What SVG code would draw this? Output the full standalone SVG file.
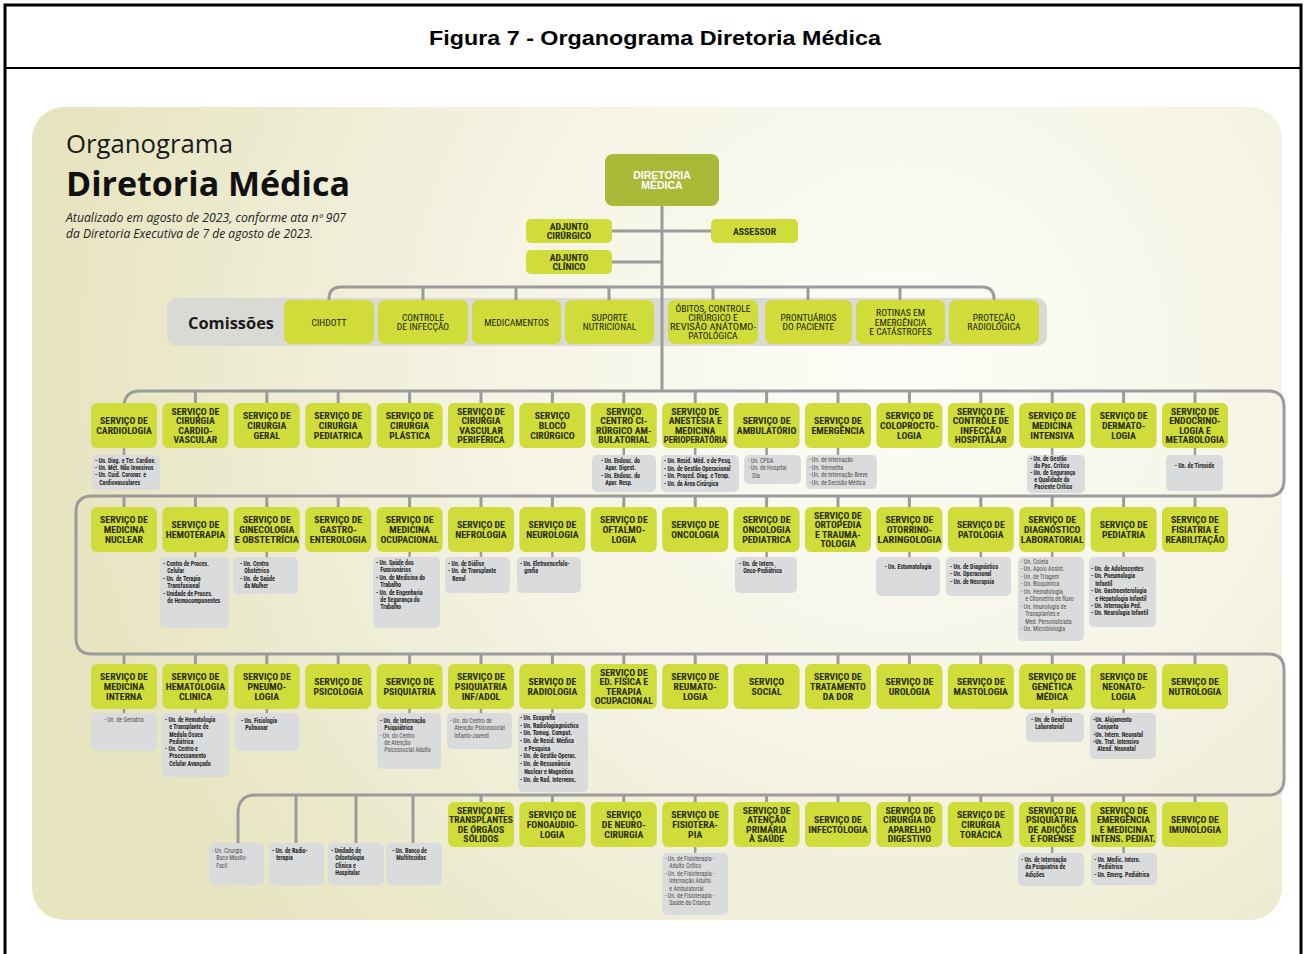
<svg xmlns="http://www.w3.org/2000/svg" width="1306" height="954" viewBox="0 0 1306 954">
<defs>
<radialGradient id="bg" gradientUnits="userSpaceOnUse" cx="900" cy="360" r="860">
<stop offset="0" stop-color="#fdfdf8"/>
<stop offset="0.5" stop-color="#f4f3e3"/>
<stop offset="1" stop-color="#e7e4c0"/>
</radialGradient>
<style>
.s rect{fill:#cfdc3a}
.s text,.c text{font-family:"Liberation Sans Narrow","Roboto Condensed","DejaVu Sans Condensed","Liberation Sans",sans-serif;font-size:9.8px;font-weight:bold;fill:#2a2d12;text-anchor:middle}
.c text{font-weight:normal;font-size:9.6px;fill:#1c1e08}
.g rect{fill:#dadbdd}
.g text{font-family:"Liberation Sans Narrow","Roboto Condensed","DejaVu Sans Condensed","Liberation Sans",sans-serif;font-size:7px;font-weight:bold;fill:#262626}
.g text.l,.g tspan.l{fill:#4e4e4e;font-weight:normal}
.g text.m{text-anchor:middle}
#connectors path{fill:none;stroke:#9b9b9b;stroke-width:3}
#connectors .st{stroke-width:2.5}
</style>
</defs>
<rect x="0" y="0" width="1306" height="954" fill="#fff"/>
<rect x="5" y="5" width="1296" height="970" fill="none" stroke="#000" stroke-width="3"/>
<line x1="5" y1="68" x2="1301" y2="68" stroke="#000" stroke-width="2"/>
<text x="655" y="45" text-anchor="middle" font-family="Liberation Sans, Arial, sans-serif" font-weight="bold" font-size="21" textLength="452" lengthAdjust="spacingAndGlyphs">Figura 7 - Organograma Diretoria Médica</text>
<rect x="32" y="107" width="1250" height="813" rx="32" fill="url(#bg)"/>
<g id="header">
<text x="66" y="153" font-family="Open Sans, Lato, sans-serif" font-size="25" fill="#1a1a1a" textLength="167" lengthAdjust="spacingAndGlyphs">Organograma</text>
<text x="66" y="196" font-family="Open Sans, Lato, sans-serif" font-weight="bold" font-size="34" fill="#111" textLength="284" lengthAdjust="spacingAndGlyphs">Diretoria Médica</text>
<text x="66" y="222" font-family="Open Sans, Lato, sans-serif" font-style="italic" font-size="12" fill="#222" textLength="280" lengthAdjust="spacingAndGlyphs">Atualizado em agosto de 2023, conforme ata nº 907</text>
<text x="66" y="238" font-family="Open Sans, Lato, sans-serif" font-style="italic" font-size="12" fill="#222" textLength="247" lengthAdjust="spacingAndGlyphs">da Diretoria Executiva de 7 de agosto de 2023.</text>
</g>
<rect x="167" y="298" width="880" height="48" rx="10" fill="#dadad4"/>
<text x="188" y="329" font-family="Open Sans, Lato, sans-serif" font-weight="bold" font-size="16" fill="#1a1a1a" textLength="86" lengthAdjust="spacingAndGlyphs">Comissões</text>
<g id="connectors">
<path d="M662 206V391"/>
<path d="M612 231H711M612 262H662"/>
<path d="M329 300V299Q329 287 341 287H982Q994 287 994 299V300M423 287V300M516 287V300M609 287V300M713 287V300M808 287V300M900 287V300"/>
<path d="M124 403V407Q124 391 140 391H1268Q1284 391 1284 407V480Q1284 496 1268 496H92Q76 496 76 512V638Q76 654 92 654H1268Q1284 654 1284 670V779Q1284 795 1268 795H256Q238 795 238 813V843"/>
<path d="M195.4 391V403M266.8 391V403M338.2 391V403M409.6 391V403M481 391V403M552.4 391V403M623.8 391V403M695.2 391V403M766.6 391V403M838 391V403M909.4 391V403M980.8 391V403M1052.2 391V403M1123.6 391V403M1195 391V403"/>
<path d="M124 496V507M195.4 496V507M266.8 496V507M338.2 496V507M409.6 496V507M481 496V507M552.4 496V507M623.8 496V507M695.2 496V507M766.6 496V507M838 496V507M909.4 496V507M980.8 496V507M1052.2 496V507M1123.6 496V507M1195 496V507"/>
<path d="M124 654V664M195.4 654V664M266.8 654V664M338.2 654V664M409.6 654V664M481 654V664M552.4 654V664M623.8 654V664M695.2 654V664M766.6 654V664M838 654V664M909.4 654V664M980.8 654V664M1052.2 654V664M1123.6 654V664M1195 654V664"/>
<path d="M296 795V843M356 795V843M413 795V843M481 795V802M552.4 795V802M623.8 795V802M695.2 795V802M766.6 795V802M838 795V802M909.4 795V802M980.8 795V802M1052.2 795V802M1123.6 795V802M1195 795V802"/>
<path class="st" d="M124 448V455M623.8 448V455M695.2 448V455M766.6 448V455M838 448V455M1052.2 448V455M1195 448V455"/>
<path class="st" d="M195.4 552V557M266.8 552V557M409.6 552V557M481 552V557M552.4 552V557M766.6 552V557M909.4 552V557M980.8 552V557M1052.2 552V557M1123.6 552V557"/>
<path class="st" d="M124 709V713M195.4 709V713M266.8 709V713M409.6 709V713M481 709V713M552.4 709V713M1052.2 709V713M1123.6 709V713"/>
<path class="st" d="M695.2 847V853M1052.2 847V853M1123.6 847V853"/>
</g>
<g id="diretoria"><rect x="605" y="154" width="114" height="52" rx="8" fill="#a9ba38"/><text x="662" y="179" text-anchor="middle" font-family="Liberation Sans Narrow, Liberation Sans, sans-serif" font-weight="bold" font-size="10.5" fill="#fff"><tspan x="662">DIRETORIA</tspan><tspan x="662" dy="10">MÉDICA</tspan></text></g>
<g id="adj-cir" class="s"><rect x="526" y="219" width="86" height="24" rx="5"/><text><tspan x="569" y="229.5">ADJUNTO</tspan><tspan x="569" y="238.5">CIRÚRGICO</tspan></text></g>
<g id="adj-cli" class="s"><rect x="526" y="250" width="86" height="24" rx="5"/><text><tspan x="569" y="260.5">ADJUNTO</tspan><tspan x="569" y="269.5">CLÍNICO</tspan></text></g>
<g id="assessor" class="s"><rect x="711" y="219" width="87" height="24" rx="5"/><text x="754.5" y="234.5">ASSESSOR</text></g>
<g id="com-cihdott" class="s c"><rect x="284" y="300" width="90" height="44" rx="7"/><text x="329" y="325.5">CIHDOTT</text></g>
<g id="com-infeccao" class="s c"><rect x="378" y="300" width="90" height="44" rx="7"/><text><tspan x="423" y="320.7">CONTROLE</tspan><tspan x="423" y="330.3">DE INFECÇÃO</tspan></text></g>
<g id="com-medicamentos" class="s c"><rect x="472" y="300" width="89" height="44" rx="7"/><text x="516.5" y="325.5">MEDICAMENTOS</text></g>
<g id="com-nutricional" class="s c"><rect x="565" y="300" width="89" height="44" rx="7"/><text><tspan x="609.5" y="320.7">SUPORTE</tspan><tspan x="609.5" y="330.3">NUTRICIONAL</tspan></text></g>
<g id="com-obitos" class="s c"><rect x="668" y="300" width="90" height="44" rx="7"/><text><tspan x="713" y="311.6">ÓBITOS, CONTROLE</tspan><tspan x="713" y="320.8">CIRÚRGICO E</tspan><tspan x="713" y="330" textLength="86" lengthAdjust="spacingAndGlyphs">REVISÃO ANÁTOMO-</tspan><tspan x="713" y="339.2">PATOLÓGICA</tspan></text></g>
<g id="com-prontuarios" class="s c"><rect x="765" y="300" width="87" height="44" rx="7"/><text><tspan x="808.5" y="320.7">PRONTUÁRIOS</tspan><tspan x="808.5" y="330.3">DO PACIENTE</tspan></text></g>
<g id="com-rotinas" class="s c"><rect x="856" y="300" width="89" height="44" rx="7"/><text><tspan x="900.5" y="315.9">ROTINAS EM</tspan><tspan x="900.5" y="325.5">EMERGÊNCIA</tspan><tspan x="900.5" y="335.1">E CATÁSTROFES</tspan></text></g>
<g id="com-radiologica" class="s c"><rect x="949" y="300" width="90" height="44" rx="7"/><text><tspan x="994" y="320.7">PROTEÇÃO</tspan><tspan x="994" y="330.3">RADIOLÓGICA</tspan></text></g>

<g id="r1-cardiologia" class="s"><rect x="91" y="403" width="66" height="45" rx="6"/><text><tspan x="124" y="424.2">SERVIÇO DE</tspan><tspan x="124" y="433.8">CARDIOLOGIA</tspan></text></g>
<g id="r1-cir-cardio" class="s"><rect x="162.4" y="403" width="66" height="45" rx="6"/><text><tspan x="195.4" y="414.6">SERVIÇO DE</tspan><tspan x="195.4" y="424.2">CIRURGIA</tspan><tspan x="195.4" y="433.8">CARDIO-</tspan><tspan x="195.4" y="443.4">VASCULAR</tspan></text></g>
<g id="r1-cir-geral" class="s"><rect x="233.8" y="403" width="66" height="45" rx="6"/><text><tspan x="266.8" y="419.4">SERVIÇO DE</tspan><tspan x="266.8" y="429">CIRURGIA</tspan><tspan x="266.8" y="438.6">GERAL</tspan></text></g>
<g id="r1-cir-ped" class="s"><rect x="305.2" y="403" width="66" height="45" rx="6"/><text><tspan x="338.2" y="419.4">SERVIÇO DE</tspan><tspan x="338.2" y="429">CIRURGIA</tspan><tspan x="338.2" y="438.6">PEDIATRICA</tspan></text></g>
<g id="r1-cir-plastica" class="s"><rect x="376.6" y="403" width="66" height="45" rx="6"/><text><tspan x="409.6" y="419.4">SERVIÇO DE</tspan><tspan x="409.6" y="429">CIRURGIA</tspan><tspan x="409.6" y="438.6">PLÁSTICA</tspan></text></g>
<g id="r1-cir-vascular" class="s"><rect x="448" y="403" width="66" height="45" rx="6"/><text><tspan x="481" y="414.6">SERVIÇO DE</tspan><tspan x="481" y="424.2">CIRURGIA</tspan><tspan x="481" y="433.8">VASCULAR</tspan><tspan x="481" y="443.4">PERIFÉRICA</tspan></text></g>
<g id="r1-bloco" class="s"><rect x="519.4" y="403" width="66" height="45" rx="6"/><text><tspan x="552.4" y="419.4">SERVIÇO</tspan><tspan x="552.4" y="429">BLOCO</tspan><tspan x="552.4" y="438.6">CIRÚRGICO</tspan></text></g>
<g id="r1-centro-cir" class="s"><rect x="590.8" y="403" width="66" height="45" rx="6"/><text><tspan x="623.8" y="414.6">SERVIÇO</tspan><tspan x="623.8" y="424.2">CENTRO CI-</tspan><tspan x="623.8" y="433.8">RÚRGICO  AM-</tspan><tspan x="623.8" y="443.4">BULATORIAL</tspan></text></g>
<g id="r1-anestesia" class="s"><rect x="662.2" y="403" width="66" height="45" rx="6"/><text><tspan x="695.2" y="414.6">SERVIÇO DE</tspan><tspan x="695.2" y="424.2">ANESTESIA E</tspan><tspan x="695.2" y="433.8">MEDICINA</tspan><tspan x="695.2" y="443.4" textLength="63" lengthAdjust="spacingAndGlyphs">PERIOPERATÓRIA</tspan></text></g>
<g id="r1-ambulatorio" class="s"><rect x="733.6" y="403" width="66" height="45" rx="6"/><text><tspan x="766.6" y="424.2">SERVIÇO DE</tspan><tspan x="766.6" y="433.8">AMBULATÓRIO</tspan></text></g>
<g id="r1-emergencia" class="s"><rect x="805" y="403" width="66" height="45" rx="6"/><text><tspan x="838" y="424.2">SERVIÇO DE</tspan><tspan x="838" y="433.8">EMERGÊNCIA</tspan></text></g>
<g id="r1-coloprocto" class="s"><rect x="876.4" y="403" width="66" height="45" rx="6"/><text><tspan x="909.4" y="419.4">SERVIÇO DE</tspan><tspan x="909.4" y="429">COLOPROCTO-</tspan><tspan x="909.4" y="438.6">LOGIA</tspan></text></g>
<g id="r1-ccih" class="s"><rect x="947.8" y="403" width="66" height="45" rx="6"/><text><tspan x="980.8" y="414.6">SERVIÇO DE</tspan><tspan x="980.8" y="424.2">CONTROLE DE</tspan><tspan x="980.8" y="433.8">INFECÇÃO</tspan><tspan x="980.8" y="443.4">HOSPITALAR</tspan></text></g>
<g id="r1-med-intensiva" class="s"><rect x="1019.2" y="403" width="66" height="45" rx="6"/><text><tspan x="1052.2" y="419.4">SERVIÇO DE</tspan><tspan x="1052.2" y="429">MEDICINA</tspan><tspan x="1052.2" y="438.6">INTENSIVA</tspan></text></g>
<g id="r1-dermato" class="s"><rect x="1090.6" y="403" width="66" height="45" rx="6"/><text><tspan x="1123.6" y="419.4">SERVIÇO DE</tspan><tspan x="1123.6" y="429">DERMATO-</tspan><tspan x="1123.6" y="438.6">LOGIA</tspan></text></g>
<g id="r1-endocrino" class="s"><rect x="1162" y="403" width="66" height="45" rx="6"/><text><tspan x="1195" y="414.6">SERVIÇO DE</tspan><tspan x="1195" y="424.2">ENDOCRINO-</tspan><tspan x="1195" y="433.8">LOGIA  E</tspan><tspan x="1195" y="443.4">METABOLOGIA</tspan></text></g>

<g id="u-cardio" class="g"><rect x="92" y="455" width="68" height="35" rx="5"/><text transform="translate(95 463) scale(.85 1)"><tspan x="0" y="0">- Un. Diag. e Ter.  Cardiov.</tspan><tspan x="0" dy="7.2">- Un. Mét. Não Invasivos</tspan><tspan x="0" dy="7.2">- Un. Cuid. Coronar. e</tspan><tspan x="5" dy="7.2">Cardiovasculares</tspan></text></g>
<g id="u-centro-cir" class="g"><rect x="592" y="455" width="64" height="37" rx="5"/><text transform="translate(601 463) scale(.85 1)"><tspan x="0" y="0">- Un. Endosc. do</tspan><tspan x="5" dy="7.3">Apar. Digest.</tspan><tspan x="0" dy="7.3">- Un. Endosc. do</tspan><tspan x="5" dy="7.3">Apar. Resp.</tspan></text></g>
<g id="u-anestesia" class="g"><rect x="661" y="455" width="78" height="37" rx="5"/><text transform="translate(664 463) scale(.85 1)"><tspan x="0" y="0">- Un. Resid. Méd. e de Pesq.</tspan><tspan x="0" dy="7.6">- Un. de Gestão Operacional</tspan><tspan x="0" dy="7.6">- Un. Proced. Diag. e Terap.</tspan><tspan x="0" dy="7.6">- Un. da Área Cirúrgica</tspan></text></g>
<g id="u-ambulatorio" class="g"><rect x="744" y="455" width="57" height="29" rx="5"/><text class="l" transform="translate(748 463) scale(.85 1)"><tspan x="0" y="0">- Un. CPDA</tspan><tspan x="0" dy="7.3">- Un. de Hospital</tspan><tspan x="5" dy="7.3">Dia</tspan></text></g>
<g id="u-emergencia" class="g"><rect x="806" y="455" width="71" height="34" rx="5"/><text class="l" transform="translate(809 462) scale(.85 1)"><tspan x="0" y="0">- Un. de Internação</tspan><tspan x="0" dy="7.6">- Un. Vermelha</tspan><tspan x="0" dy="7.6">- Un. de Internação Breve</tspan><tspan x="0" dy="7.6">- Un. de Decisão Médica</tspan></text></g>
<g id="u-med-intensiva" class="g"><rect x="1027" y="455" width="58" height="38" rx="5"/><text transform="translate(1030 461) scale(.85 1)"><tspan x="0" y="0">- Un. de Gestão</tspan><tspan x="5" dy="7">do Pac. Crítico</tspan><tspan x="0" dy="7">- Un. de Segurança</tspan><tspan x="5" dy="7">e Qualidade do</tspan><tspan x="5" dy="7">Paciente Crítico</tspan></text></g>
<g id="u-endocrino" class="g"><rect x="1166" y="455" width="57" height="36" rx="5"/><text class="m" transform="translate(1194.5 468) scale(.85 1)" x="0" y="0">- Un. de Tireoide</text></g>

<g id="r2-med-nuclear" class="s"><rect x="91" y="507" width="66" height="45" rx="6"/><text><tspan x="124" y="523.4">SERVIÇO DE</tspan><tspan x="124" y="533">MEDICINA</tspan><tspan x="124" y="542.6">NUCLEAR</tspan></text></g>
<g id="r2-hemoterapia" class="s"><rect x="162.4" y="507" width="66" height="45" rx="6"/><text><tspan x="195.4" y="528.2">SERVIÇO DE</tspan><tspan x="195.4" y="537.8">HEMOTERAPIA</tspan></text></g>
<g id="r2-gineco" class="s"><rect x="233.8" y="507" width="66" height="45" rx="6"/><text><tspan x="266.8" y="523.4">SERVIÇO DE</tspan><tspan x="266.8" y="533">GINECOLOGIA</tspan><tspan x="266.8" y="542.6" textLength="64" lengthAdjust="spacingAndGlyphs">E OBSTETRÍCIA</tspan></text></g>
<g id="r2-gastro" class="s"><rect x="305.2" y="507" width="66" height="45" rx="6"/><text><tspan x="338.2" y="523.4">SERVIÇO DE</tspan><tspan x="338.2" y="533">GASTRO-</tspan><tspan x="338.2" y="542.6">ENTEROLOGIA</tspan></text></g>
<g id="r2-med-ocup" class="s"><rect x="376.6" y="507" width="66" height="45" rx="6"/><text><tspan x="409.6" y="523.4">SERVIÇO DE</tspan><tspan x="409.6" y="533">MEDICINA</tspan><tspan x="409.6" y="542.6">OCUPACIONAL</tspan></text></g>
<g id="r2-nefro" class="s"><rect x="448" y="507" width="66" height="45" rx="6"/><text><tspan x="481" y="528.2">SERVIÇO DE</tspan><tspan x="481" y="537.8">NEFROLOGIA</tspan></text></g>
<g id="r2-neuro" class="s"><rect x="519.4" y="507" width="66" height="45" rx="6"/><text><tspan x="552.4" y="528.2">SERVIÇO DE</tspan><tspan x="552.4" y="537.8">NEUROLOGIA</tspan></text></g>
<g id="r2-oftalmo" class="s"><rect x="590.8" y="507" width="66" height="45" rx="6"/><text><tspan x="623.8" y="523.4">SERVIÇO DE</tspan><tspan x="623.8" y="533">OFTALMO-</tspan><tspan x="623.8" y="542.6">LOGIA</tspan></text></g>
<g id="r2-onco" class="s"><rect x="662.2" y="507" width="66" height="45" rx="6"/><text><tspan x="695.2" y="528.2">SERVIÇO DE</tspan><tspan x="695.2" y="537.8">ONCOLOGIA</tspan></text></g>
<g id="r2-onco-ped" class="s"><rect x="733.6" y="507" width="66" height="45" rx="6"/><text><tspan x="766.6" y="523.4">SERVIÇO DE</tspan><tspan x="766.6" y="533">ONCOLOGIA</tspan><tspan x="766.6" y="542.6">PEDIATRICA</tspan></text></g>
<g id="r2-orto" class="s"><rect x="805" y="507" width="66" height="45" rx="6"/><text><tspan x="838" y="518.6">SERVIÇO DE</tspan><tspan x="838" y="528.2">ORTOPEDIA</tspan><tspan x="838" y="537.8">E TRAUMA-</tspan><tspan x="838" y="547.4">TOLOGIA</tspan></text></g>
<g id="r2-otorrino" class="s"><rect x="876.4" y="507" width="66" height="45" rx="6"/><text><tspan x="909.4" y="523.4">SERVIÇO DE</tspan><tspan x="909.4" y="533">OTORRINO-</tspan><tspan x="909.4" y="542.6" textLength="64" lengthAdjust="spacingAndGlyphs">LARINGOLOGIA</tspan></text></g>
<g id="r2-patologia" class="s"><rect x="947.8" y="507" width="66" height="45" rx="6"/><text><tspan x="980.8" y="528.2">SERVIÇO DE</tspan><tspan x="980.8" y="537.8">PATOLOGIA</tspan></text></g>
<g id="r2-diag-lab" class="s"><rect x="1019.2" y="507" width="66" height="45" rx="6"/><text><tspan x="1052.2" y="523.4">SERVIÇO DE</tspan><tspan x="1052.2" y="533">DIAGNÓSTICO</tspan><tspan x="1052.2" y="542.6" textLength="63" lengthAdjust="spacingAndGlyphs">LABORATORIAL</tspan></text></g>
<g id="r2-pediatria" class="s"><rect x="1090.6" y="507" width="66" height="45" rx="6"/><text><tspan x="1123.6" y="528.2">SERVIÇO DE</tspan><tspan x="1123.6" y="537.8">PEDIATRIA</tspan></text></g>
<g id="r2-fisiatria" class="s"><rect x="1162" y="507" width="66" height="45" rx="6"/><text><tspan x="1195" y="523.4">SERVIÇO DE</tspan><tspan x="1195" y="533">FISIATRIA E</tspan><tspan x="1195" y="542.6">REABILITAÇÃO</tspan></text></g>

<g id="u-hemoterapia" class="g"><rect x="160" y="557" width="69" height="71" rx="5"/><text transform="translate(163 566) scale(.85 1)"><tspan x="0" y="0">- Centro de Proces.</tspan><tspan x="5" dy="7.4">Celular</tspan><tspan x="0" dy="7.4">- Un. de Terapia</tspan><tspan x="5" dy="7.4">Transfusional</tspan><tspan x="0" dy="7.4">- Unidade de Proces.</tspan><tspan x="5" dy="7.4">de Hemocomponentes</tspan></text></g>
<g id="u-gineco" class="g"><rect x="233" y="557" width="65" height="37" rx="5"/><text transform="translate(240 566) scale(.85 1)"><tspan x="0" y="0">- Un. Centro</tspan><tspan x="5" dy="7.4">Obstétrico</tspan><tspan x="0" dy="7.4">- Un. de Saúde</tspan><tspan x="5" dy="7.4">da Mulher</tspan></text></g>
<g id="u-ocupacional" class="g"><rect x="373" y="557" width="67" height="71" rx="5"/><text transform="translate(376 565) scale(.85 1)"><tspan x="0" y="0">- Un. Saúde dos</tspan><tspan x="5" dy="7.4">Funcionários</tspan><tspan x="0" dy="7.4">- Un. de Medicina do</tspan><tspan x="5" dy="7.4">Trabalho</tspan><tspan x="0" dy="7.4">- Un. de Engenharia</tspan><tspan x="5" dy="7.4">de Segurança do</tspan><tspan x="5" dy="7.4">Trabalho</tspan></text></g>
<g id="u-nefro" class="g"><rect x="445" y="557" width="65" height="36" rx="5"/><text transform="translate(448 566) scale(.85 1)"><tspan x="0" y="0">- Un. de Diálise</tspan><tspan x="0" dy="7.4">- Un. de Transplante</tspan><tspan x="5" dy="7.4">Renal</tspan></text></g>
<g id="u-neuro" class="g"><rect x="517" y="557" width="64" height="36" rx="5"/><text transform="translate(520 566) scale(.85 1)"><tspan x="0" y="0">- Un. Eletroencefalo-</tspan><tspan x="5" dy="7.4">grafia</tspan></text></g>
<g id="u-onco-ped" class="g"><rect x="735" y="557" width="62" height="36" rx="5"/><text transform="translate(739 566) scale(.85 1)"><tspan x="0" y="0">- Un. de Intern.</tspan><tspan x="5" dy="7.4">Onco-Pediátrica</tspan></text></g>
<g id="u-otorrino" class="g"><rect x="876" y="557" width="64" height="39" rx="5"/><text class="m" transform="translate(908 569) scale(.85 1)" x="0" y="0">- Un. Estomatologia</text></g>
<g id="u-patologia" class="g"><rect x="946" y="557" width="65" height="39" rx="5"/><text transform="translate(950 569) scale(.85 1)"><tspan x="0" y="0">- Un. de Diagnóstico</tspan><tspan x="0" dy="7.4">- Un. Operacional</tspan><tspan x="0" dy="7.4">- Un. de Necropsia</tspan></text></g>
<g id="u-diag-lab" class="g"><rect x="1018" y="557" width="66" height="84" rx="5"/><text class="l" transform="translate(1021 564) scale(.85 1)"><tspan x="0" y="0">- Un. Coleta</tspan><tspan x="0" dy="7.5">- Un. Apoio Assist.</tspan><tspan x="0" dy="7.5">- Un. de Triagem</tspan><tspan x="0" dy="7.5">- Un. Bioquímica</tspan><tspan x="0" dy="7.5">- Un. Hematologia</tspan><tspan x="5" dy="7.5">e Citometria de fluxo</tspan><tspan x="0" dy="7.5">- Un. Imunologia de</tspan><tspan x="5" dy="7.5">Transplantes e</tspan><tspan x="5" dy="7.5">Med. Personalizada</tspan><tspan x="0" dy="7.5">- Un. Microbiologia</tspan></text></g>
<g id="u-pediatria" class="g"><rect x="1089" y="557" width="67" height="70" rx="5"/><text transform="translate(1091 571) scale(.85 1)"><tspan x="0" y="0">- Un. de Adolescentes</tspan><tspan x="0" dy="7.4">- Un. Pneumologia</tspan><tspan x="5" dy="7.4">Infantil</tspan><tspan x="0" dy="7.4">- Un. Gastroenterologia</tspan><tspan x="5" dy="7.4">e Hepatologia Infantil</tspan><tspan x="0" dy="7.4">- Un. Internação Ped.</tspan><tspan x="0" dy="7.4">- Un. Neurologia Infantil</tspan></text></g>

<g id="r3-med-interna" class="s"><rect x="91" y="664" width="66" height="45" rx="6"/><text><tspan x="124" y="680.4">SERVIÇO  DE</tspan><tspan x="124" y="690">MEDICINA</tspan><tspan x="124" y="699.6">INTERNA</tspan></text></g>
<g id="r3-hemato" class="s"><rect x="162.4" y="664" width="66" height="45" rx="6"/><text><tspan x="195.4" y="680.4">SERVIÇO DE</tspan><tspan x="195.4" y="690">HEMATOLOGIA</tspan><tspan x="195.4" y="699.6">CLINICA</tspan></text></g>
<g id="r3-pneumo" class="s"><rect x="233.8" y="664" width="66" height="45" rx="6"/><text><tspan x="266.8" y="680.4">SERVIÇO DE</tspan><tspan x="266.8" y="690">PNEUMO-</tspan><tspan x="266.8" y="699.6">LOGIA</tspan></text></g>
<g id="r3-psicologia" class="s"><rect x="305.2" y="664" width="66" height="45" rx="6"/><text><tspan x="338.2" y="685.2">SERVIÇO DE</tspan><tspan x="338.2" y="694.8">PSICOLOGIA</tspan></text></g>
<g id="r3-psiquiatria" class="s"><rect x="376.6" y="664" width="66" height="45" rx="6"/><text><tspan x="409.6" y="685.2">SERVIÇO DE</tspan><tspan x="409.6" y="694.8">PSIQUIATRIA</tspan></text></g>
<g id="r3-psiq-inf" class="s"><rect x="448" y="664" width="66" height="45" rx="6"/><text><tspan x="481" y="680.4">SERVIÇO DE</tspan><tspan x="481" y="690">PSIQUIATRIA</tspan><tspan x="481" y="699.6">INF/ADOL</tspan></text></g>
<g id="r3-radiologia" class="s"><rect x="519.4" y="664" width="66" height="45" rx="6"/><text><tspan x="552.4" y="685.2">SERVIÇO DE</tspan><tspan x="552.4" y="694.8">RADIOLOGIA</tspan></text></g>
<g id="r3-ed-fisica" class="s"><rect x="590.8" y="664" width="66" height="45" rx="6"/><text><tspan x="623.8" y="675.6">SERVIÇO DE</tspan><tspan x="623.8" y="685.2">ED. FÍSICA E</tspan><tspan x="623.8" y="694.8">TERAPIA</tspan><tspan x="623.8" y="704.4">OCUPACIONAL</tspan></text></g>
<g id="r3-reumato" class="s"><rect x="662.2" y="664" width="66" height="45" rx="6"/><text><tspan x="695.2" y="680.4">SERVIÇO DE</tspan><tspan x="695.2" y="690">REUMATO-</tspan><tspan x="695.2" y="699.6">LOGIA</tspan></text></g>
<g id="r3-social" class="s"><rect x="733.6" y="664" width="66" height="45" rx="6"/><text><tspan x="766.6" y="685.2">SERVIÇO</tspan><tspan x="766.6" y="694.8">SOCIAL</tspan></text></g>
<g id="r3-dor" class="s"><rect x="805" y="664" width="66" height="45" rx="6"/><text><tspan x="838" y="680.4">SERVIÇO DE</tspan><tspan x="838" y="690">TRATAMENTO</tspan><tspan x="838" y="699.6">DA DOR</tspan></text></g>
<g id="r3-urologia" class="s"><rect x="876.4" y="664" width="66" height="45" rx="6"/><text><tspan x="909.4" y="685.2">SERVIÇO DE</tspan><tspan x="909.4" y="694.8">UROLOGIA</tspan></text></g>
<g id="r3-mastologia" class="s"><rect x="947.8" y="664" width="66" height="45" rx="6"/><text><tspan x="980.8" y="685.2">SERVIÇO DE</tspan><tspan x="980.8" y="694.8">MASTOLOGIA</tspan></text></g>
<g id="r3-genetica" class="s"><rect x="1019.2" y="664" width="66" height="45" rx="6"/><text><tspan x="1052.2" y="680.4">SERVIÇO DE</tspan><tspan x="1052.2" y="690">GENÉTICA</tspan><tspan x="1052.2" y="699.6">MÉDICA</tspan></text></g>
<g id="r3-neonato" class="s"><rect x="1090.6" y="664" width="66" height="45" rx="6"/><text><tspan x="1123.6" y="680.4">SERVIÇO DE</tspan><tspan x="1123.6" y="690">NEONATO-</tspan><tspan x="1123.6" y="699.6">LOGIA</tspan></text></g>
<g id="r3-nutrologia" class="s"><rect x="1162" y="664" width="66" height="45" rx="6"/><text><tspan x="1195" y="685.2">SERVIÇO DE</tspan><tspan x="1195" y="694.8">NUTROLOGIA</tspan></text></g>

<g id="u-geriatria" class="g"><rect x="91" y="713" width="66" height="38" rx="5"/><text class="m l" transform="translate(124 722) scale(.85 1)" x="0" y="0">- Un. de Geriatria</text></g>
<g id="u-hemato" class="g"><rect x="162" y="713" width="67" height="64" rx="5"/><text transform="translate(165 722) scale(.85 1)"><tspan x="0" y="0">- Un. de Hematologia</tspan><tspan x="5" dy="7.3">e Transplante de</tspan><tspan x="5" dy="7.3">Medula Óssea</tspan><tspan x="5" dy="7.3">Pediátrica</tspan><tspan x="0" dy="7.3">- Un. Centro e</tspan><tspan x="5" dy="7.3">Processamento</tspan><tspan x="5" dy="7.3">Celular Avançado</tspan></text></g>
<g id="u-pneumo" class="g"><rect x="235" y="713" width="64" height="38" rx="5"/><text transform="translate(241 723) scale(.85 1)"><tspan x="0" y="0">- Un. Fisiologia</tspan><tspan x="5" dy="7.3">Pulmonar</tspan></text></g>
<g id="u-psiquiatria" class="g"><rect x="377" y="713" width="64" height="56" rx="5"/><text transform="translate(380 723) scale(.85 1)"><tspan x="0" y="0">- Un. de Internação</tspan><tspan x="5" dy="7.3">Psiquiátrica</tspan><tspan class="l" x="0" dy="7.3">- Un. do Centro</tspan><tspan class="l" x="5" dy="7.3">de Atenção</tspan><tspan class="l" x="5" dy="7.3">Psicossocial Adulto</tspan></text></g>
<g id="u-psiq-inf" class="g"><rect x="447" y="713" width="65" height="36" rx="5"/><text class="l" transform="translate(450 723) scale(.85 1)"><tspan x="0" y="0">- Un. do Centro de</tspan><tspan x="5" dy="7.3">Atenção Psicossocial</tspan><tspan x="5" dy="7.3">Infanto-Juvenil</tspan></text></g>
<g id="u-radiologia" class="g"><rect x="518" y="713" width="70" height="79" rx="5"/><text transform="translate(520 720) scale(.85 1)"><tspan x="0" y="0">- Un. Ecografia</tspan><tspan x="0" dy="7.7">- Un. Radiologiagnóstico</tspan><tspan x="0" dy="7.7">- Un. Tomog. Comput.</tspan><tspan x="0" dy="7.7">- Un. de Resid. Médica</tspan><tspan x="5" dy="7.7">e Pesquisa</tspan><tspan x="0" dy="7.7">- Un. de Gestão Operac.</tspan><tspan x="0" dy="7.7">- Un. de Ressonância</tspan><tspan x="5" dy="7.7">Nuclear e Magnética</tspan><tspan x="0" dy="7.7">- Un. de Rad. Intervenc.</tspan></text></g>
<g id="u-genetica" class="g"><rect x="1026" y="713" width="58" height="29" rx="5"/><text transform="translate(1031 722) scale(.85 1)"><tspan x="0" y="0">- Un. de Genética</tspan><tspan x="5" dy="7.3">Laboratorial</tspan></text></g>
<g id="u-neonato" class="g"><rect x="1090" y="713" width="66" height="46" rx="5"/><text transform="translate(1093 722) scale(.85 1)"><tspan x="0" y="0">-Un. Alojamento</tspan><tspan x="5" dy="7.3">Conjunto</tspan><tspan x="0" dy="7.3">-Un. Intern. Neonatal</tspan><tspan x="0" dy="7.3">-Un. Trat. Intensivo</tspan><tspan x="5" dy="7.3">Atend. Neonatal</tspan></text></g>

<g id="u-buco" class="g"><rect x="209" y="843" width="55" height="42" rx="5"/><text class="l" transform="translate(212 853) scale(.85 1)"><tspan x="0" y="0">- Un. Cirurgia</tspan><tspan x="5" dy="7.3">Buco-Maxilo-</tspan><tspan x="5" dy="7.3">Facil</tspan></text></g>
<g id="u-radioterapia" class="g"><rect x="269" y="843" width="55" height="42" rx="5"/><text transform="translate(272 853) scale(.85 1)"><tspan x="0" y="0">- Un. de Radio-</tspan><tspan x="5" dy="7.3">terapia</tspan></text></g>
<g id="u-odonto" class="g"><rect x="328" y="843" width="56" height="42" rx="5"/><text transform="translate(331 853) scale(.85 1)"><tspan x="0" y="0">- Unidade de</tspan><tspan x="5" dy="7.3">Odontologia</tspan><tspan x="5" dy="7.3">Clínica e</tspan><tspan x="5" dy="7.3">Hospitalar</tspan></text></g>
<g id="u-banco" class="g"><rect x="386" y="843" width="56" height="42" rx="5"/><text transform="translate(392 853) scale(.85 1)"><tspan x="0" y="0">- Un. Banco de</tspan><tspan x="5" dy="7.3">Multitecidos</tspan></text></g>

<g id="r4-transplantes" class="s"><rect x="448" y="802" width="66" height="45" rx="6"/><text><tspan x="481" y="813.6">SERVIÇO  DE</tspan><tspan x="481" y="823.2" textLength="64" lengthAdjust="spacingAndGlyphs">TRANSPLANTES</tspan><tspan x="481" y="832.8">DE ÓRGÃOS</tspan><tspan x="481" y="842.4">SÓLIDOS</tspan></text></g>
<g id="r4-fono" class="s"><rect x="519.4" y="802" width="66" height="45" rx="6"/><text><tspan x="552.4" y="818.4">SERVIÇO  DE</tspan><tspan x="552.4" y="828">FONOAUDIO-</tspan><tspan x="552.4" y="837.6">LOGIA</tspan></text></g>
<g id="r4-neurocir" class="s"><rect x="590.8" y="802" width="66" height="45" rx="6"/><text><tspan x="623.8" y="818.4">SERVIÇO</tspan><tspan x="623.8" y="828">DE NEURO-</tspan><tspan x="623.8" y="837.6">CIRURGIA</tspan></text></g>
<g id="r4-fisioterapia" class="s"><rect x="662.2" y="802" width="66" height="45" rx="6"/><text><tspan x="695.2" y="818.4">SERVIÇO DE</tspan><tspan x="695.2" y="828">FISIOTERA-</tspan><tspan x="695.2" y="837.6">PIA</tspan></text></g>
<g id="r4-atencao" class="s"><rect x="733.6" y="802" width="66" height="45" rx="6"/><text><tspan x="766.6" y="813.6">SERVIÇO DE</tspan><tspan x="766.6" y="823.2">ATENÇÃO</tspan><tspan x="766.6" y="832.8">PRIMÁRIA</tspan><tspan x="766.6" y="842.4">À SAÚDE</tspan></text></g>
<g id="r4-infecto" class="s"><rect x="805" y="802" width="66" height="45" rx="6"/><text><tspan x="838" y="823.2">SERVIÇO DE</tspan><tspan x="838" y="832.8">INFECTOLOGIA</tspan></text></g>
<g id="r4-ap-digestivo" class="s"><rect x="876.4" y="802" width="66" height="45" rx="6"/><text><tspan x="909.4" y="813.6">SERVIÇO DE</tspan><tspan x="909.4" y="823.2">CIRURGIA DO</tspan><tspan x="909.4" y="832.8">APARELHO</tspan><tspan x="909.4" y="842.4">DIGESTIVO</tspan></text></g>
<g id="r4-toracica" class="s"><rect x="947.8" y="802" width="66" height="45" rx="6"/><text><tspan x="980.8" y="818.4">SERVIÇO DE</tspan><tspan x="980.8" y="828">CIRURGIA</tspan><tspan x="980.8" y="837.6">TORÁCICA</tspan></text></g>
<g id="r4-psiq-adicoes" class="s"><rect x="1019.2" y="802" width="66" height="45" rx="6"/><text><tspan x="1052.2" y="813.6">SERVIÇO DE</tspan><tspan x="1052.2" y="823.2">PSIQUIATRIA</tspan><tspan x="1052.2" y="832.8">DE ADIÇÕES</tspan><tspan x="1052.2" y="842.4">E FORENSE</tspan></text></g>
<g id="r4-emerg-ped" class="s"><rect x="1090.6" y="802" width="66" height="45" rx="6"/><text><tspan x="1123.6" y="813.6">SERVIÇO DE</tspan><tspan x="1123.6" y="823.2">EMERGÊNCIA</tspan><tspan x="1123.6" y="832.8">E MEDICINA</tspan><tspan x="1123.6" y="842.4" textLength="64" lengthAdjust="spacingAndGlyphs">INTENS. PEDIAT.</tspan></text></g>
<g id="r4-imuno" class="s"><rect x="1162" y="802" width="66" height="45" rx="6"/><text><tspan x="1195" y="823.2">SERVIÇO DE</tspan><tspan x="1195" y="832.8">IMUNOLOGIA</tspan></text></g>

<g id="u-fisio" class="g"><rect x="662" y="853" width="66" height="62" rx="5"/><text class="l" transform="translate(665 861) scale(.85 1)"><tspan x="0" y="0">- Un. de Fisioterapia -</tspan><tspan x="5" dy="7.4">Adulto Crítico</tspan><tspan x="0" dy="7.4">- Un. de Fisioterapia -</tspan><tspan x="5" dy="7.4">Internação Adulto</tspan><tspan x="5" dy="7.4">e Ambulatorial</tspan><tspan x="0" dy="7.4">- Un. de Fisioterapia -</tspan><tspan x="5" dy="7.4">Saúde da Criança</tspan></text></g>
<g id="u-psiq-adicoes" class="g"><rect x="1018" y="853" width="66" height="33" rx="5"/><text transform="translate(1021 862) scale(.85 1)"><tspan x="0" y="0">- Un. de Internação</tspan><tspan x="5" dy="7.3">da Psiquiatria de</tspan><tspan x="5" dy="7.3">Adições</tspan></text></g>
<g id="u-emerg-ped" class="g"><rect x="1091" y="853" width="66" height="32" rx="5"/><text transform="translate(1094 862) scale(.85 1)"><tspan x="0" y="0">- Un. Medic. Intern.</tspan><tspan x="5" dy="7.3">Pediátrica</tspan><tspan x="0" dy="7.3">- Un. Emerg. Pediátrica</tspan></text></g>
</svg>
